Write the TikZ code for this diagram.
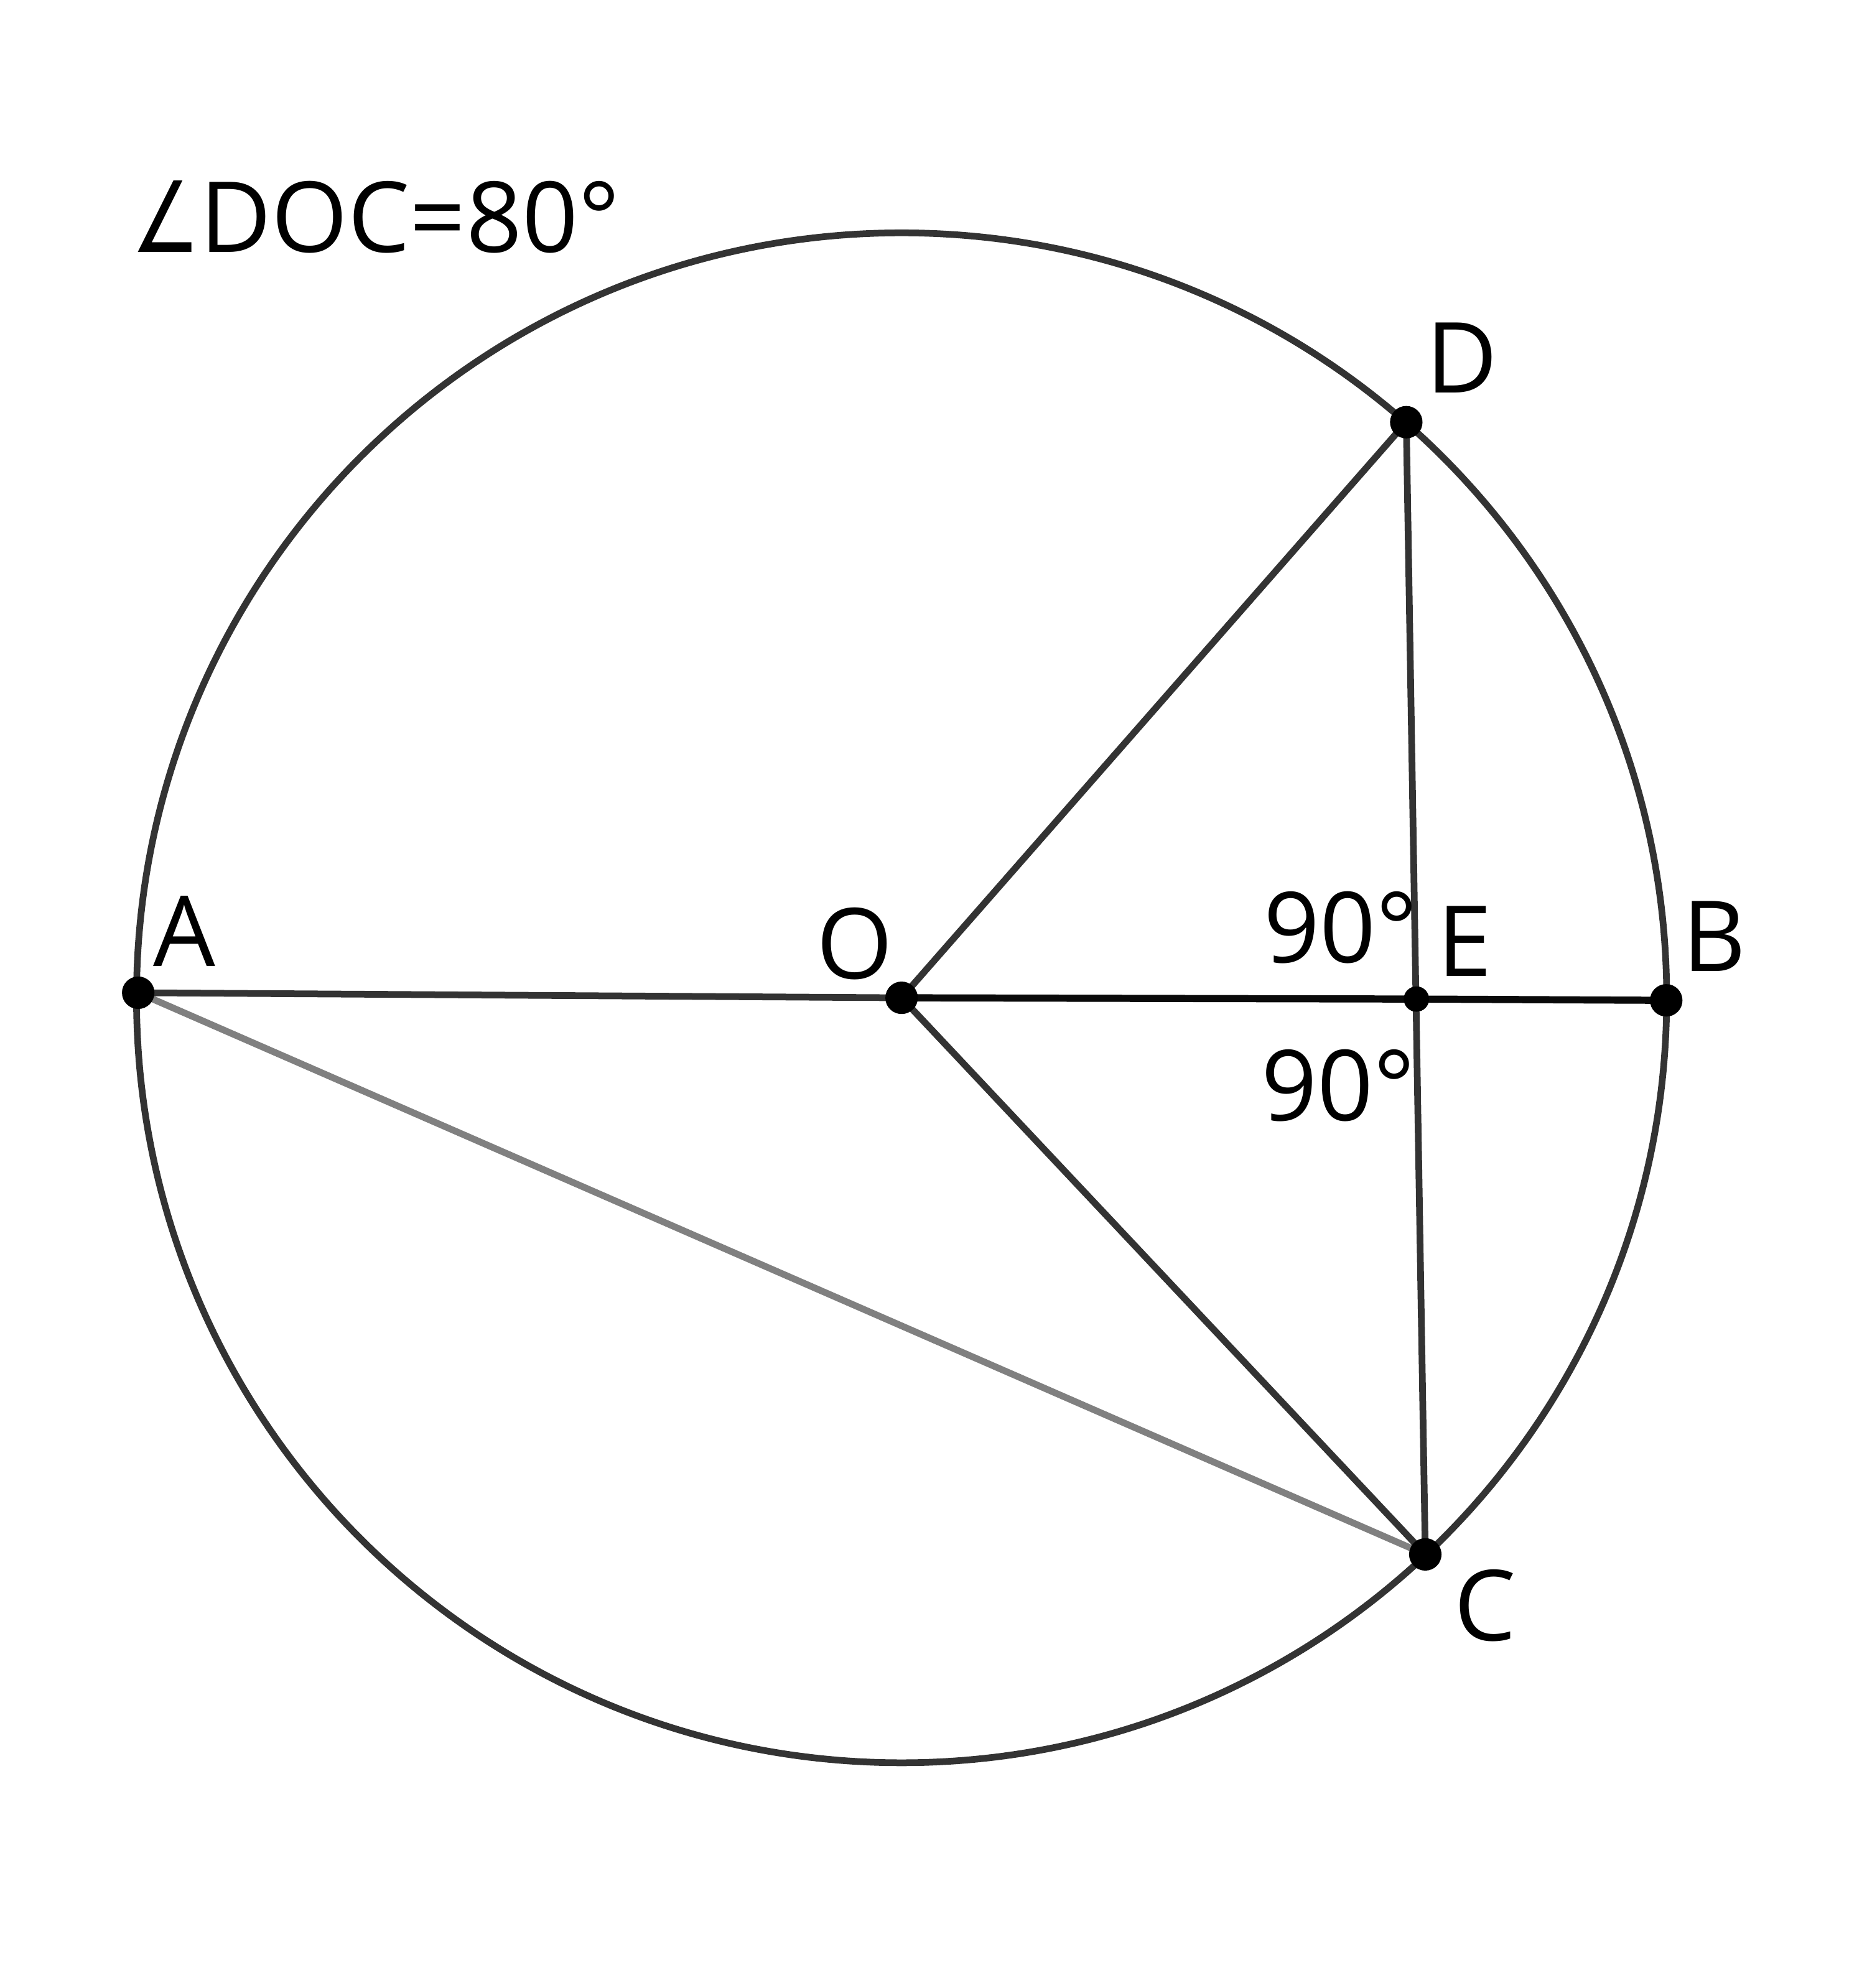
\documentclass[tikz,border=0pt]{standalone}
\usepackage{fontspec}
\setmainfont{Open Sans}
\newfontfamily\simboli{DejaVu Sans}
\usetikzlibrary{calc}
\definecolor{dark}{HTML}{333333}
\definecolor{grigio}{HTML}{808080}
\definecolor{nero}{HTML}{0A0A0A}

\begin{document}
\begin{tikzpicture}[x=0.01cm, y=0.01cm]
  \useasboundingbox (0,0) rectangle (1472,1568);
  \tikzset{etichetta/.style={anchor=base west, inner sep=0pt, font=\fontsize{22}{26}\selectfont}}

  \coordinate (O) at (711,781);
  \coordinate (A) at (109,785);
  \coordinate (B) at (1314,779);
  \coordinate (D) at (1109,1235);
  \coordinate (C) at (1124,342);
  \coordinate (E) at (1117,780);

  % Cerchio
  \draw[dark, line width=1.5pt] (O) circle[radius=6.03cm];

  % Corda AC
  \draw[grigio, line width=1.5pt] (A)--(C);

  % Diametro AB
  \draw[dark, line width=1.5pt] (A)--(O);
  \draw[nero, line width=1.6pt] (O)--(E)--(B);

  % Raggi OD, OC e corda DC
  \draw[dark, line width=1.5pt] (O)--(D);
  \draw[dark, line width=1.5pt] (O)--(C);
  \draw[dark, line width=1.5pt] (D)--(C);

  % Punti
  \foreach \p in {A,O,B,D,C}
    \fill (\p) circle[radius=0.128cm];
  \fill (E) circle[radius=0.1cm];

  % Etichette vertici
  \node[etichetta] (lA) at (120,806) {A};
  \node[etichetta] (lO) at (643,796) {O};
  \node[etichetta] (lB) at (1326,802) {B};
  \node[etichetta] (lE) at (1133,798) {E};
  \node[etichetta] (lD) at (1124,1258) {D};
  \node[etichetta] (lC) at (1146,274) {C};

  % Angoli
  \node[etichetta] (ang1) at (996,809) {90°};
  \node[etichetta] (ang2) at (994,684) {90°};
  \node[etichetta] (titolo) at (103,1369) {\scalebox{0.78}[1]{\simboli ∠}DOC=80°};
\end{tikzpicture}
\end{document}
